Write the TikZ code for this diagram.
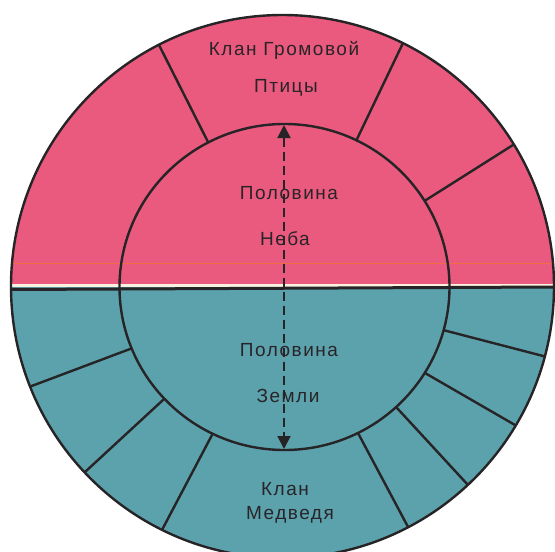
\documentclass[tikz,border=0pt]{standalone}
\usepackage{fontspec}
\setmainfont{Liberation Sans}[LetterSpace=8]
\usetikzlibrary{arrows.meta,calc}
\definecolor{pinkc}{RGB}{233,90,126}
\definecolor{tealc}{RGB}{92,162,172}
\definecolor{inkc}{RGB}{38,36,38}
\definecolor{creamc}{RGB}{250,242,225}
\definecolor{textc}{RGB}{40,36,40}
\begin{document}
\begin{tikzpicture}[x=1pt,y=-1pt,
  rule/.style={draw=inkc,line width=2.4pt},
  lbl/.style={text=textc,font=\fontsize{19}{22}\selectfont,inner sep=0pt}]
\useasboundingbox (0,0) rectangle (555,552);
\fill[white] (0,0) rectangle (555,552);
\coordinate (OC) at (282.5,286.5);
\coordinate (IC) at (284.5,287);
% outer ring fill and radial dividers
\begin{scope}
  \clip (OC) circle[radius=271.5pt];
  \fill[pinkc] (0,0) rectangle (555,285);
  \fill[creamc] (0,284) rectangle (555,287);
  \fill[tealc] (0,287) rectangle (555,552);
  \foreach \ix/\iy/\ox/\oy in {207/140/160/47, 358/137/403/43, 426/200/513/145,
      443/330/547/357, 425/373/515/425, 397/408/468/485, 358/433/407/525,
      212/435/163/528, 163/400/85/472, 130/349/29/387}{
    \draw[rule] ($(\ix,\iy)!-0.25!(\ox,\oy)$) -- ($(\ix,\iy)!1.15!(\ox,\oy)$);
  }
\end{scope}
% inner disc fill
\begin{scope}
  \clip (IC) ellipse[x radius=165pt,y radius=163pt];
  \fill[pinkc] (0,0) rectangle (555,285);
  \fill[creamc] (0,284) rectangle (555,287);
  \fill[tealc] (0,287) rectangle (555,552);
\end{scope}
% faint printing streak
\begin{scope}
  \clip (OC) circle[radius=271.5pt];
  \draw[orange!80!pinkc,line width=0.6pt,opacity=0.6] (0,263) -- (555,263);
\end{scope}
\draw[rule] (IC) ellipse[x radius=165pt,y radius=163pt];
\draw[rule] (OC) circle[radius=271.5pt];
\coordinate (hl) at (11,289.5);
\coordinate (hr) at (555,287);
\draw[rule,line width=3pt] (hl) -- (hr);
% dashed double arrow
\coordinate (atop) at (284,125);
\coordinate (abot) at (284,449);
\draw[inkc,line width=2pt,dash pattern=on 9pt off 5pt,
  {Triangle[length=13pt,width=13pt]}-{Triangle[length=13pt,width=13pt]}] (atop) -- (abot);
% labels
\node[lbl] (t1) at (284,50) {Клан Громовой};
\node[lbl] (t2) at (286,88) {Птицы};
\node[lbl] (t3) at (289,193) {Половина};
\node[lbl] (t4) at (285,239) {Неба};
\node[lbl] (t5) at (289,350) {Половина};
\node[lbl] (t6) at (288,396) {Земли};
\node[lbl] (t7) at (285,489) {Клан};
\node[lbl] (t8) at (290,515) {Медведя};
\end{tikzpicture}
\end{document}
